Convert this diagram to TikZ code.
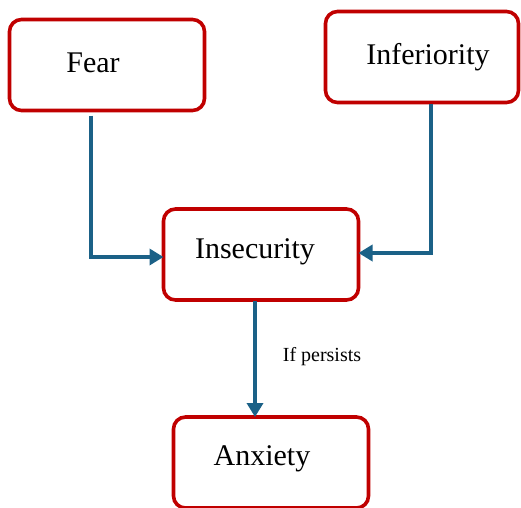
\documentclass[tikz,border=0pt]{standalone}
\usepackage{fontspec}
\setmainfont{Liberation Serif}
\usetikzlibrary{arrows.meta}
\definecolor{boxred}{HTML}{C00000}
\definecolor{arrowblue}{HTML}{1B6187}
\begin{document}
\begin{tikzpicture}[x=1pt,y=-1pt,
  box/.style={draw=boxred, line width=3.6pt, rounded corners=12pt, fill=white,
    minimum width=#1, minimum height=91pt, inner sep=0pt, outer sep=0pt},
  box/.default=195pt,
  lbl/.style={font=\fontsize{30}{33}\selectfont, text=black},
  conn/.style={draw=arrowblue, line width=3.4pt, -{Triangle[length=14pt,width=16pt]}}]
\useasboundingbox (0,0) rectangle (521,507);
\node[box] (fear) at (107,65) {};
\node[lbl] (feart) at (93,63) {Fear};
\node[box=193pt] (infer) at (422,57) {};
\node[lbl] (infert) at (428,57) {Inferiority};
\node[box] (insec) at (261,254.5) {};
\node[lbl] (insect) at (255,252) {Insecurity};
\node[box] (anx) at (271,462.5) {};
\node[lbl] (anxt) at (262,459) {Anxiety};
\draw[conn] ([xshift=-16pt,yshift=-5pt]fear.south) |- ([yshift=-2.5pt]insec.west);
\draw[conn] ([xshift=9pt,yshift=-1pt]infer.south) |- ([yshift=1.5pt]insec.east);
\draw[conn] ([xshift=-6pt,yshift=-1pt]insec.south) coordinate (s) -- (s |- anx.north);
\node[font=\fontsize{20}{23}\selectfont] (ifp) at (322,357) {If persists};
\end{tikzpicture}
\end{document}
